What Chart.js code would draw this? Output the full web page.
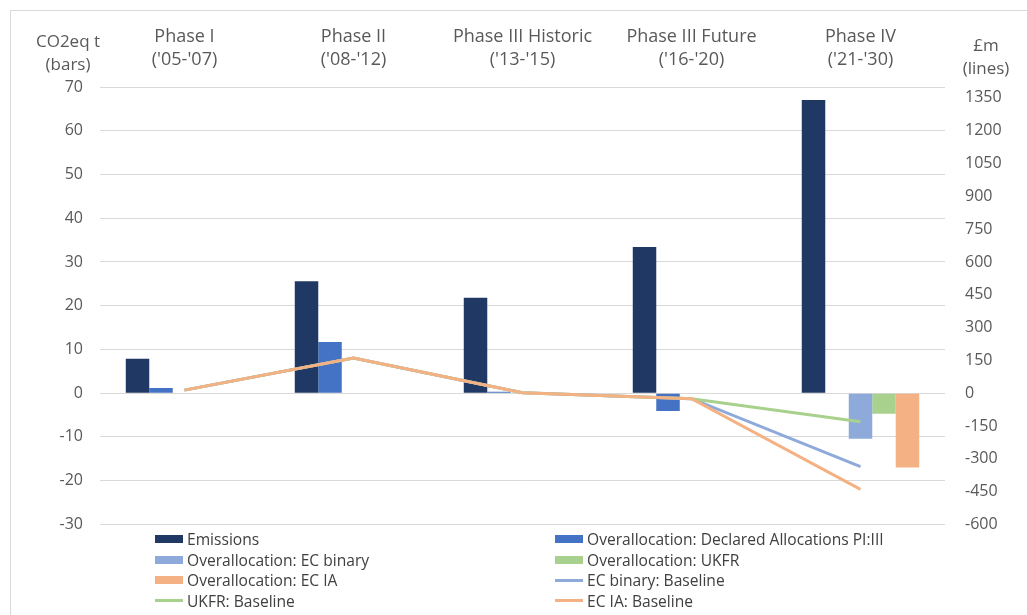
<!DOCTYPE html>
<html lang="en">
<head>
  <meta charset="UTF-8" />
  <title>Overallocation by EU ETS phase</title>
  <script src="https://cdn.jsdelivr.net/npm/chart.js"></script>
  <style>
    body {
      margin: 0;
      background: #fff;
      font-family: 'Open Sans', sans-serif;
    }
    .marco {
      position: absolute;
      left: 10px;
      top: 10px;
      width: 1030px;
      height: 620px;
      border-top: 1px solid #d9d9d9;
      border-left: 1px solid #d9d9d9;
    }
    .lienzo {
      position: absolute;
      left: 0;
      top: 0;
      width: 1027px;
      height: 554px;
    }
    .titulo-eje {
      position: absolute;
      color: #595959;
      font-size: 17px;
      line-height: 23px;
      text-align: center;
    }
    .leyenda {
      position: absolute;
      left: 155px;
      top: 529px;
      display: grid;
      grid-template-columns: 400px 400px;
      grid-auto-rows: 20.5px;
      font-family: 'Open Sans', sans-serif;
      font-size: 15.6px;
      color: #404040;
    }
    .item {
      display: flex;
      align-items: center;
      white-space: nowrap;
    }
    .muestra {
      width: 28px;
      margin-right: 4px;
    }
  </style>
</head>
<body>
  <div class="marco"></div>
  <div class="lienzo"><canvas id="grafica"></canvas></div>
  <div class="titulo-eje" style="left:25px; top:29px; width:86px;">CO2eq t<br>(bars)</div>
  <div class="titulo-eje" style="left:948px; top:33px; width:76px;">£m<br>(lines)</div>
  <div class="leyenda" id="leyenda"></div>

  <script>
    // categories (two-line labels)
    const fases = [
      ['Phase I', "('05-'07)"],
      ['Phase II', "('08-'12)"],
      ['Phase III Historic', "('13-'15)"],
      ['Phase III Future', "('16-'20)"],
      ['Phase IV', "('21-'30)"]
    ];

    // bars, CO2eq t (left axis)
    const emisiones = [7.9, 25.6, 21.8, 33.4, 67.0];
    const asignDeclaradas = [1.2, 11.7, 0.3, -4.1, null];
    const sobreEcBinary = [null, null, null, null, -10.4];
    const sobreUkfr = [null, null, null, null, -4.7];
    const sobreEcIa = [null, null, null, null, -17.0];

    // lines, £m (right axis)
    const baseEcBinary = [14, 161, 2, -25, -336];
    const baseUkfr = [14, 161, 2, -25, -131];
    const baseEcIa = [14, 161, 2, -25, -440];

    // right axis tick labels
    const ticksLibras = [-600, -450, -300, -150, 0, 150, 300, 450, 600, 750, 900, 1050, 1200, 1350];

    const colores = {
      emisiones: '#203864',
      declaradas: '#4472c4',
      ecBinary: '#8eaadb',
      ukfr: '#a9d18e',
      ecIa: '#f4b183'
    };

    function barra(label, data, color) {
      return { type: 'bar', label, data, backgroundColor: color, yAxisID: 'y', order: 4 };
    }
    function linea(label, data, color, orden) {
      return {
        type: 'line', label, data, borderColor: color, backgroundColor: color,
        borderWidth: 3, pointRadius: 0, tension: 0, yAxisID: 'y2', order: orden
      };
    }

    const datasets = [
      barra('Emissions', emisiones, colores.emisiones),
      barra('Overallocation: Declared Allocations PI:III', asignDeclaradas, colores.declaradas),
      barra('Overallocation: EC binary', sobreEcBinary, colores.ecBinary),
      barra('Overallocation: UKFR', sobreUkfr, colores.ukfr),
      barra('Overallocation: EC IA', sobreEcIa, colores.ecIa),
      linea('EC binary: Baseline', baseEcBinary, colores.ecBinary, 3),
      linea('UKFR: Baseline', baseUkfr, colores.ukfr, 2),
      linea('EC IA: Baseline', baseEcIa, colores.ecIa, 1)
    ];

    const fuenteEje = { family: 'Open Sans', size: 16 };

    new Chart(document.getElementById('grafica'), {
      data: { labels: fases, datasets },
      options: {
        responsive: true,
        maintainAspectRatio: false,
        animation: false,
        layout: { padding: { top: 0, left: 0, right: 0, bottom: 6 } },
        datasets: { bar: { categoryPercentage: 0.695, barPercentage: 1 } },
        plugins: { legend: { display: false }, tooltip: { enabled: false } },
        scales: {
          x: {
            position: 'top',
            grid: { display: false, drawTicks: false },
            border: { display: false },
            ticks: { color: '#595959', font: { family: 'Open Sans', size: 18, lineHeight: 1.28 }, padding: 16, maxRotation: 0, autoSkip: false },
            afterFit: s => { s.height = 87; }
          },
          y: {
            position: 'left',
            min: -30, max: 70,
            ticks: { stepSize: 10, color: '#595959', font: fuenteEje, padding: 17 },
            grid: { color: '#d9d9d9', lineWidth: 1, drawTicks: false },
            border: { display: false },
            afterFit: s => { s.width = 100; }
          },
          y2: {
            position: 'right',
            min: -600, max: 1400,
            ticks: { color: '#595959', font: fuenteEje, padding: 20, callback: v => String(v) },
            afterBuildTicks: s => { s.ticks = ticksLibras.map(v => ({ value: v })); },
            grid: { display: false, drawTicks: false },
            border: { display: false },
            afterFit: s => { s.width = 82; }
          }
        }
      }
    });

    // legend in two columns, same order as the reference
    const leyenda = document.getElementById('leyenda');
    datasets.forEach(ds => {
      const item = document.createElement('div');
      item.className = 'item';
      const m = document.createElement('span');
      m.className = 'muestra';
      m.style.background = ds.type === 'bar' ? ds.backgroundColor : ds.borderColor;
      m.style.height = ds.type === 'bar' ? '8px' : '3px';
      item.appendChild(m);
      item.appendChild(document.createTextNode(ds.label));
      leyenda.appendChild(item);
    });
  </script>
</body>
</html>
